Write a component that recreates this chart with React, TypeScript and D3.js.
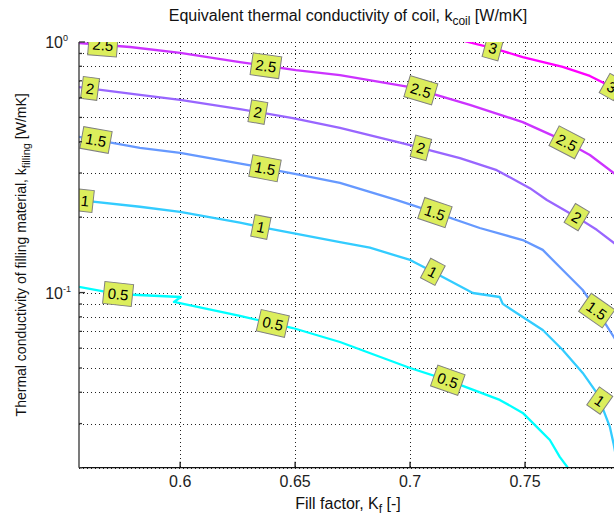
import React from "react";
import * as d3 from "d3";

const W = 614;
const H = 515;
const PLOT = { left: 79, right: 617, top: 42, bottom: 467.7 };

const xDomain: [number, number] = [0.556, 0.79];
const yDomain: [number, number] = [0.02, 1];
const xTicks = [0.6, 0.65, 0.7, 0.75];
const xTickLabels = ["0.6", "0.65", "0.7", "0.75"];
const yMajor = [0.1, 1];
const yMajorExp = ["-1", "0"];
const yMinor = [0.02, 0.03, 0.04, 0.05, 0.06, 0.07, 0.08, 0.09, 0.2, 0.3, 0.4, 0.5, 0.6, 0.7, 0.8, 0.9];

const levels = [0.5, 1, 1.5, 2, 2.5, 3];
const levelText = ["0.5", "1", "1.5", "2", "2.5", "3"];

// contour lines (fill factor, k_filling) per k_coil level
const contour05: [number, number][] = [
  [0.556, 0.1053], [0.5725, 0.0987], [0.6003, 0.096], [0.5973, 0.0917], [0.626, 0.0807],
  [0.649, 0.0722], [0.6695, 0.0635], [0.7, 0.05], [0.716, 0.0448], [0.739, 0.0373],
  [0.749, 0.0331], [0.7564, 0.0283], [0.7608, 0.0258], [0.7651, 0.0221], [0.7686, 0.02], [0.7695, 0.0192],
];
const contour10: [number, number][] = [
  [0.556, 0.234], [0.5825, 0.22], [0.6, 0.21], [0.626, 0.19], [0.6347, 0.183], [0.6695, 0.159],
  [0.6825, 0.151], [0.7, 0.135], [0.7099, 0.121], [0.7273, 0.0996], [0.739, 0.096], [0.7403, 0.0901],
  [0.749, 0.0799], [0.7577, 0.0709], [0.7664, 0.059], [0.7751, 0.0478], [0.7812, 0.0398],
  [0.7869, 0.0291], [0.7886, 0.0247], [0.7898, 0.0215],
];
const contour15: [number, number][] = [
  [0.556, 0.418], [0.5825, 0.378], [0.6, 0.361], [0.6317, 0.32], [0.6521, 0.295], [0.6695, 0.274],
  [0.6943, 0.234], [0.7099, 0.21], [0.7303, 0.181], [0.749, 0.162], [0.7577, 0.148], [0.7664, 0.123],
  [0.7751, 0.1024], [0.7825, 0.0814], [0.7886, 0.0665], [0.7912, 0.061],
];
const contour20: [number, number][] = [
  [0.556, 0.661], [0.5825, 0.615], [0.6, 0.587], [0.626, 0.54], [0.649, 0.497], [0.6695, 0.454],
  [0.7, 0.388], [0.7217, 0.344], [0.7377, 0.308], [0.7521, 0.261], [0.7595, 0.234], [0.7725, 0.2],
  [0.7812, 0.178], [0.7886, 0.158], [0.7912, 0.151],
];
const contour25: [number, number][] = [
  [0.556, 0.991], [0.5782, 0.955], [0.6, 0.904], [0.626, 0.832], [0.6503, 0.773], [0.6695, 0.738],
  [0.7, 0.661], [0.726, 0.561], [0.749, 0.479], [0.7664, 0.406], [0.7782, 0.354], [0.7886, 0.3], [0.7912, 0.285],
];
const contour30: [number, number][] = [
  [0.722, 1.02], [0.7251, 1.0], [0.736, 0.946], [0.749, 0.871], [0.7664, 0.795], [0.7782, 0.732],
  [0.7886, 0.655], [0.7912, 0.632],
];
const contours = [contour05, contour10, contour15, contour20, contour25, contour30];

// label positions (fill factor) along each contour
const labels05 = [0.573, 0.6403, 0.7164];
const labels10 = [0.5586, 0.6351, 0.7099, 0.7825];
const labels15 = [0.5634, 0.6369, 0.7108, 0.7812];
const labels20 = [0.5608, 0.6338, 0.7047, 0.7725];
const labels25 = [0.5664, 0.6373, 0.7047, 0.7682];
const labels30 = [0.736, 0.7877];
const labelSets = [labels05, labels10, labels15, labels20, labels25, labels30];

const FONT = "'Liberation Sans', Arial, Helvetica, sans-serif";

function coolColor(level: number) {
  const t = (level - levels[0]) / (levels[levels.length - 1] - levels[0]);
  return d3.rgb(255 * t, 255 * (1 - t), 255).formatHex();
}

function textWidth(s: string, fs: number) {
  let w = 0;
  for (const c of s) w += c === "." ? 0.278 : 0.556;
  return w * fs;
}

export default function App() {
  const xS = d3.scaleLinear().domain(xDomain).range([PLOT.left, PLOT.right]);
  const yS = d3.scaleLog().domain(yDomain).range([PLOT.bottom, PLOT.top]);
  const line = d3
    .line<[number, number]>()
    .x((d) => xS(d[0]))
    .y((d) => yS(d[1]));

  const yAt = (pts: [number, number][], px: number) => {
    const p = pts.map((d) => [xS(d[0]), yS(d[1])]);
    for (let i = 0; i < p.length - 1; i++) {
      const [x0, y0] = p[i];
      const [x1, y1] = p[i + 1];
      if (x1 > x0 && px >= x0 && px <= x1) return y0 + ((px - x0) / (x1 - x0)) * (y1 - y0);
    }
    if (px < p[0][0]) {
      const [x0, y0] = p[0];
      const [x1, y1] = p[1];
      return y0 + ((px - x0) / (x1 - x0)) * (y1 - y0);
    }
    const [x0, y0] = p[p.length - 2];
    const [x1, y1] = p[p.length - 1];
    return y0 + ((px - x0) / (x1 - x0)) * (y1 - y0);
  };

  const fsLab = 15;

  return (
    <svg
      width={W}
      height={H}
      style={{ position: "absolute", left: 0, top: 0, background: "#fff" }}
      fontFamily={FONT}
    >
      <defs>
        <clipPath id="plotclip">
          <rect x={PLOT.left} y={PLOT.top} width={PLOT.right - PLOT.left} height={PLOT.bottom - PLOT.top} />
        </clipPath>
      </defs>
      <rect x={0} y={0} width={W} height={H} fill="#fff" />

      {/* grid */}
      <g stroke="#222" strokeWidth={1} strokeDasharray="1 3" shapeRendering="crispEdges">
        {xTicks.map((t) => (
          <line key={"gx" + t} x1={Math.round(xS(t)) + 0.5} x2={Math.round(xS(t)) + 0.5} y1={PLOT.top} y2={PLOT.bottom} />
        ))}
        {[...yMajor, ...yMinor].map((t) => (
          <line key={"gy" + t} x1={PLOT.left} x2={PLOT.right} y1={Math.round(yS(t)) + 0.5} y2={Math.round(yS(t)) + 0.5} />
        ))}
      </g>

      {/* contour lines */}
      <g clipPath="url(#plotclip)" fill="none">
        {contours.map((c, i) => (
          <path key={"c" + i} d={line(c) || ""} stroke={coolColor(levels[i])} strokeWidth={2.3} strokeLinejoin="round" />
        ))}
      </g>

      {/* contour labels */}
      <g clipPath="url(#plotclip)">
        {labelSets.map((set, i) =>
          set.map((lx, j) => {
            const pts = contours[i];
            const px = xS(lx);
            const py = yAt(pts, px);
            const slope = (Math.atan2(yAt(pts, px + 10) - yAt(pts, px - 10), 20) * 180) / Math.PI;
            const ang = Math.min(slope, 35);
            const txt = levelText[i];
            const bw = textWidth(txt, fsLab) + 8;
            const bh = 22;
            return (
              <g key={"l" + i + "-" + j} transform={`translate(${px},${py}) rotate(${ang})`}>
                <rect x={-bw / 2} y={-bh / 2} width={bw} height={bh} fill="#dcee5c" stroke="#808080" strokeWidth={1} />
                <text x={0} y={5.5} textAnchor="middle" fontSize={fsLab} fill="#000">
                  {txt}
                </text>
              </g>
            );
          })
        )}
      </g>

      {/* axes */}
      <line x1={PLOT.left} x2={PLOT.left} y1={PLOT.top} y2={PLOT.bottom} stroke="#333" strokeWidth={1.3} />
      <line x1={PLOT.left} x2={PLOT.right} y1={PLOT.bottom} y2={PLOT.bottom} stroke="#111" strokeWidth={1.3} />
      {xTicks.map((t) => (
        <line key={"tx" + t} x1={xS(t)} x2={xS(t)} y1={PLOT.bottom} y2={PLOT.bottom - 6} stroke="#111" strokeWidth={1.3} />
      ))}
      {yMajor.map((t) => (
        <line key={"ty" + t} x1={PLOT.left} x2={PLOT.left + 6} y1={yS(t)} y2={yS(t)} stroke="#333" strokeWidth={1.3} />
      ))}
      {yMinor.map((t) => (
        <line key={"tym" + t} x1={PLOT.left} x2={PLOT.left + 3} y1={yS(t)} y2={yS(t)} stroke="#333" strokeWidth={1.3} />
      ))}

      {/* tick labels */}
      {xTicks.map((t, i) => (
        <text key={"xl" + t} x={xS(t)} y={487} textAnchor="middle" fontSize={16} fill="#222">
          {xTickLabels[i]}
        </text>
      ))}
      {yMajor.map((t, i) => (
        <g key={"yl" + t}>
          <text x={63} y={yS(t) + 6} textAnchor="end" fontSize={16} fill="#222">
            10
          </text>
          <text x={63} y={yS(t) - 1} textAnchor="start" fontSize={9} fill="#222">
            {yMajorExp[i]}
          </text>
        </g>
      ))}

      {/* title */}
      <text x={(PLOT.left + PLOT.right) / 2} y={21} textAnchor="middle" fontSize={16} fill="#111">
        Equivalent thermal conductivity of coil, k
        <tspan fontSize={12} dy={4}>coil</tspan>
        <tspan dy={-4}> [W/mK]</tspan>
      </text>

      {/* x label */}
      <text x={(PLOT.left + PLOT.right) / 2} y={509} textAnchor="middle" fontSize={16} fill="#111">
        Fill factor, K
        <tspan fontSize={12} dy={4}>f</tspan>
        <tspan dy={-4}> [-]</tspan>
      </text>

      {/* y label */}
      <text
        transform={`translate(26,${(PLOT.top + PLOT.bottom) / 2}) rotate(-90)`}
        textAnchor="middle"
        fontSize={14}
        fill="#111"
      >
        Thermal conductivity of filling material, k
        <tspan fontSize={11} dy={4}>filling</tspan>
        <tspan dy={-4}> [W/mK]</tspan>
      </text>
    </svg>
  );
}
